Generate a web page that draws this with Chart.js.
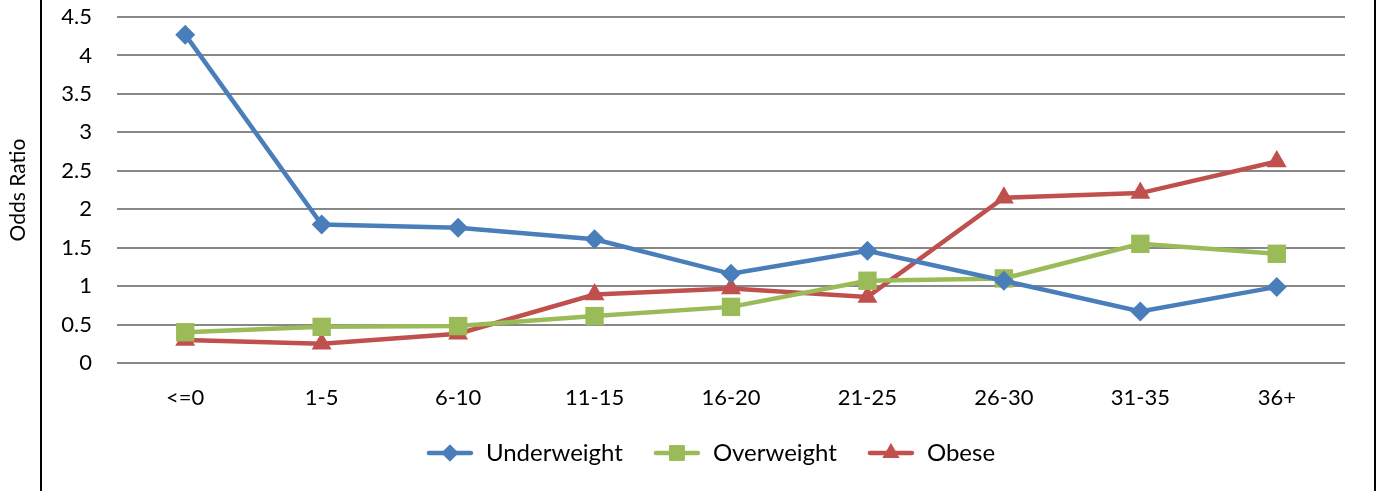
<!DOCTYPE html>
<html>
<head>
<meta charset="utf-8">
<script src="https://cdn.jsdelivr.net/npm/chart.js@4.4.0/dist/chart.umd.min.js"></script>
<style>
  html, body { margin: 0; padding: 0; background: #fff; }
  #wrap { width: 1378px; height: 491px; position: relative; }
</style>
</head>
<body>
<div id="wrap"><canvas id="oddsChart"></canvas></div>
<script>
const categories = ["<=0", "1-5", "6-10", "11-15", "16-20", "21-25", "26-30", "31-35", "36+"];
const underweight = [4.27, 1.80, 1.76, 1.61, 1.16, 1.46, 1.07, 0.67, 0.99];
const overweight = [0.40, 0.47, 0.48, 0.61, 0.73, 1.07, 1.10, 1.55, 1.42];
const obese = [0.30, 0.25, 0.38, 0.89, 0.97, 0.86, 2.15, 2.21, 2.62];
const yTicks = [0, 0.5, 1, 1.5, 2, 2.5, 3, 3.5, 4, 4.5];

const FONT = "Lato";

// legend swatch: a short line with the marker on top, like Excel
function swatch(color, style, r) {
    const c = document.createElement("canvas");
    c.width = 48;
    c.height = 26;
    const ctx = c.getContext("2d");
    ctx.strokeStyle = color;
    ctx.lineWidth = 4.5;
    ctx.lineCap = "round";
    ctx.beginPath();
    ctx.moveTo(3, 13);
    ctx.lineTo(45, 13);
    ctx.stroke();
    ctx.fillStyle = color;
    Chart.helpers.drawPoint(ctx, { pointStyle: style, radius: r, borderWidth: 0 }, 24, 13);
    ctx.fill();
    return c;
}

// black frame lines left and right, and nudge the legend a bit right
const framePlugin = {
    id: "frame",
    afterLayout(chart) {
        chart.legend.left += 38;
        chart.legend.right += 38;
    },
    beforeDraw(chart) {
        const ctx = chart.ctx;
        ctx.save();
        ctx.strokeStyle = "#000";
        ctx.lineWidth = 2;
        ctx.beginPath();
        ctx.moveTo(41, 0);
        ctx.lineTo(41, chart.height);
        ctx.moveTo(1375, 0);
        ctx.lineTo(1375, chart.height);
        ctx.stroke();
        ctx.restore();
    },
};

const series = [
    { label: "Underweight", data: underweight, color: "#4A7EBB", style: "rectRot", r: 10 },
    { label: "Overweight", data: overweight, color: "#9BBB59", style: "rect", r: 13 },
    { label: "Obese", data: obese, color: "#C0504D", style: "triangle", r: 11.5 },
];

new Chart(document.getElementById("oddsChart").getContext("2d"), {
    type: "line",
    data: {
        labels: categories,
        datasets: series.map((s) => ({
            label: s.label,
            data: s.data,
            borderColor: s.color,
            backgroundColor: s.color,
            borderWidth: 4.5,
            pointStyle: s.style,
            pointRadius: s.r,
            pointHoverRadius: s.r,
            pointBorderWidth: 0,
            tension: 0,
            swatch: swatch(s.color, s.style, s.r * 0.85),
        })),
    },
    options: {
        responsive: true,
        maintainAspectRatio: false,
        animation: false,
        layout: { padding: { top: 17, right: 33, bottom: 16, left: 0 } },
        plugins: {
            tooltip: { enabled: false },
            legend: {
                position: "bottom",
                labels: {
                    usePointStyle: true,
                    pointStyleWidth: 48,
                    boxHeight: 22,
                    padding: 30,
                    color: "#000",
                    font: { family: FONT, size: 24 },
                    generateLabels(chart) {
                        return chart.data.datasets.map((ds, i) => ({
                            text: ds.label,
                            fillStyle: ds.borderColor,
                            strokeStyle: ds.borderColor,
                            lineWidth: 0,
                            pointStyle: ds.swatch,
                            datasetIndex: i,
                            hidden: false,
                        }));
                    },
                },
            },
        },
        scales: {
            x: {
                offset: true,
                grid: { display: false },
                border: { display: false },
                ticks: {
                    color: "#000",
                    padding: 14,
                    maxRotation: 0,
                    font: { family: FONT, size: 22 },
                },
                afterFit(scale) {
                    scale.height = 48;
                },
            },
            y: {
                min: 0,
                max: 4.5,
                afterBuildTicks(scale) {
                    scale.ticks = yTicks.map((v) => ({ value: v }));
                },
                grid: {
                    color: "#888888",
                    lineWidth: 2,
                    drawTicks: false,
                },
                border: { display: false },
                ticks: {
                    color: "#000",
                    padding: 25,
                    font: { family: FONT, size: 22 },
                    callback: (v) => String(v),
                },
                title: {
                    display: true,
                    text: "Odds Ratio",
                    color: "#000",
                    font: { family: FONT, size: 21 },
                    padding: { top: 6, bottom: 0 },
                },
                afterFit(scale) {
                    scale.width = 117;
                    scale.paddingTop = 0;
                    scale.paddingBottom = 0;
                },
            },
        },
    },
    plugins: [framePlugin],
});
</script>
</body>
</html>
